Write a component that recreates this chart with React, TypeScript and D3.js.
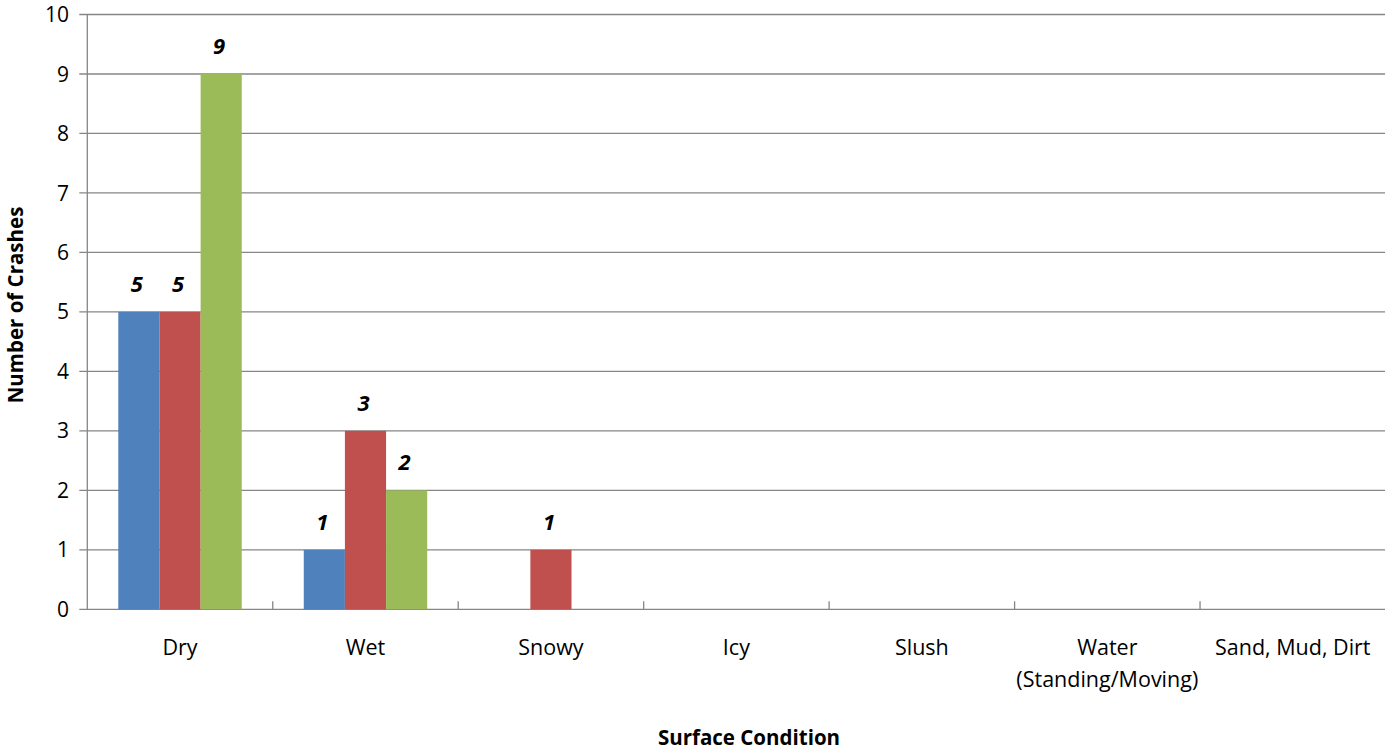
import React from "react";
import * as d3 from "d3";

const categories: string[][] = [
  ["Dry"],
  ["Wet"],
  ["Snowy"],
  ["Icy"],
  ["Slush"],
  ["Water", "(Standing/Moving)"],
  ["Sand, Mud, Dirt"],
];
const seriesNames = ["Series 1", "Series 2", "Series 3"];
const seriesColors = ["#4F81BD", "#C0504D", "#9BBB59"];
const series1 = [5, 1, 0, 0, 0, 0, 0];
const series2 = [5, 3, 1, 0, 0, 0, 0];
const series3 = [9, 2, 0, 0, 0, 0, 0];
const yTicks = [0, 1, 2, 3, 4, 5, 6, 7, 8, 9, 10];

const W = 1385;
const H = 752;
const left = 87.3;
const right = 1385.5;
const top = 14.5;
const bottom = 609.3;
const FONT = "'Open Sans', sans-serif";

export default function App() {
  const allSeries = [series1, series2, series3];
  const keys = categories.map((c) => c.join(" "));
  const x = d3.scaleBand<string>().domain(keys).range([left, right]).paddingInner(0).paddingOuter(0);
  const bandW = x.bandwidth();
  const groupPad = 31;
  const xs = d3
    .scaleBand<string>()
    .domain(seriesNames)
    .range([groupPad, bandW - groupPad])
    .padding(0);
  const y = d3.scaleLinear().domain([0, 10]).range([bottom, top]);
  const grid = "#868686";

  return (
    <svg
      width={W}
      height={H}
      style={{ position: "absolute", left: 0, top: 0, background: "#fff" }}
      fontFamily={FONT}
    >
      {yTicks.map((t) => (
        <g key={t}>
          <line x1={left - 8} x2={right} y1={y(t)} y2={y(t)} stroke={grid} strokeWidth={1.3} />
          <text x={69} y={y(t)} dy="0.36em" textAnchor="end" fontSize={21} fill="#000">
            {t}
          </text>
        </g>
      ))}
      <line x1={left} x2={left} y1={top} y2={bottom} stroke={grid} strokeWidth={1.3} />
      {keys.map((k, i) =>
        i > 0 ? (
          <line key={k} x1={x(k)!} x2={x(k)!} y1={bottom - 8} y2={bottom} stroke={grid} strokeWidth={1.3} />
        ) : null
      )}
      {keys.map((k, ci) =>
        allSeries.map((s, si) => {
          const v = s[ci];
          if (!v) return null;
          const bx = x(k)! + xs(seriesNames[si])!;
          return (
            <g key={k + si}>
              <rect x={bx} y={y(v)} width={xs.bandwidth()} height={bottom - y(v)} fill={seriesColors[si]} />
              <text
                x={bx + xs.bandwidth() / 2 - 2}
                y={y(v) - 20}
                textAnchor="middle"
                fontSize={22}
                fontWeight="bold"
                fontStyle="italic"
                fill="#000"
              >
                {v}
              </text>
            </g>
          );
        })
      )}
      {categories.map((c, i) =>
        c.map((line, li) => (
          <text
            key={keys[i] + li}
            x={x(keys[i])! + bandW / 2}
            y={655 + li * 32}
            textAnchor="middle"
            fontSize={21.5}
            fill="#000"
          >
            {line}
          </text>
        ))
      )}
      <text x={749} y={745} textAnchor="middle" fontSize={20.5} fontWeight="bold" fill="#000">
        Surface Condition
      </text>
      <text
        transform={`translate(23,305) rotate(-90)`}
        textAnchor="middle"
        fontSize={20.5}
        fontWeight="bold"
        fill="#000"
      >
        Number of Crashes
      </text>
    </svg>
  );
}
